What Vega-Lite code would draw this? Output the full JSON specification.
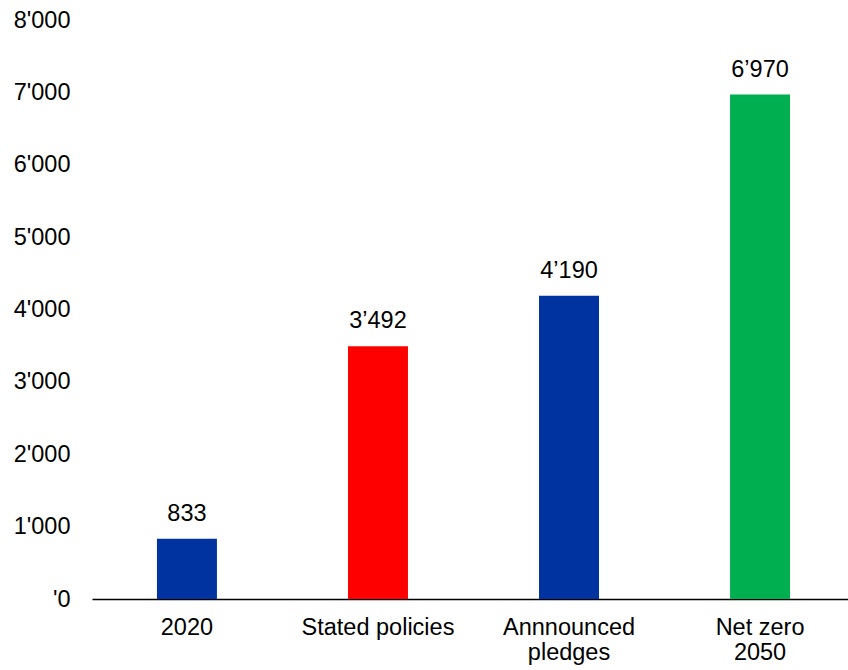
{
  "$schema": "https://vega.github.io/schema/vega-lite/v6.json",
  "autosize": "none",
  "width": 763,
  "height": 579,
  "padding": {"left": 92, "top": 20, "right": 0, "bottom": 71},
  "background": "white",
  "config": {"view": {"stroke": null}, "font": "Liberation Sans"},
  "data": {
    "values": [
      {"scenario": "2020", "value": 833, "label": "833", "color": "#0033A0"},
      {"scenario": "Stated policies", "value": 3492, "label": "3’492", "color": "#FF0000"},
      {"scenario": "Annnounced pledges", "value": 4190, "label": "4’190", "color": "#0033A0"},
      {"scenario": "Net zero 2050", "value": 6970, "label": "6’970", "color": "#00B050"}
    ]
  },
  "encoding": {
    "x": {
      "field": "scenario", "type": "nominal", "sort": null,
      "scale": {"paddingInner": 0.686, "paddingOuter": 0.34},
      "axis": {
        "title": null, "labelAngle": 0, "ticks": false, "domainColor": "#000000", "domainWidth": 1.5, "domainOpacity": 1,
        "labelFontSize": 23.5, "labelColor": "#000000", "labelPadding": 16, "labelLineHeight": 25,
        "labelExpr": "datum.value == 'Annnounced pledges' ? ['Annnounced', 'pledges'] : datum.value == 'Net zero 2050' ? ['Net zero', '2050'] : datum.value"
      }
    },
    "y": {
      "field": "value", "type": "quantitative",
      "scale": {"domain": [0, 8000], "nice": false},
      "axis": {
        "title": null, "grid": false, "domain": false, "ticks": false, "values": [0,1000,2000,3000,4000,5000,6000,7000,8000],
        "labelFontSize": 23.5, "labelColor": "#000000", "labelPadding": 22,
        "labelExpr": "datum.value == 0 ? \"'0\" : replace(format(datum.value, ','), ',', \"'\")"
      }
    }
  },
  "layer": [
    {
      "mark": {"type": "bar"},
      "encoding": {"color": {"field": "color", "type": "nominal", "scale": null}}
    },
    {
      "mark": {"type": "text", "baseline": "alphabetic", "dy": -18, "fontSize": 23.5, "color": "#000000"},
      "encoding": {"text": {"field": "label"}}
    }
  ]
}
